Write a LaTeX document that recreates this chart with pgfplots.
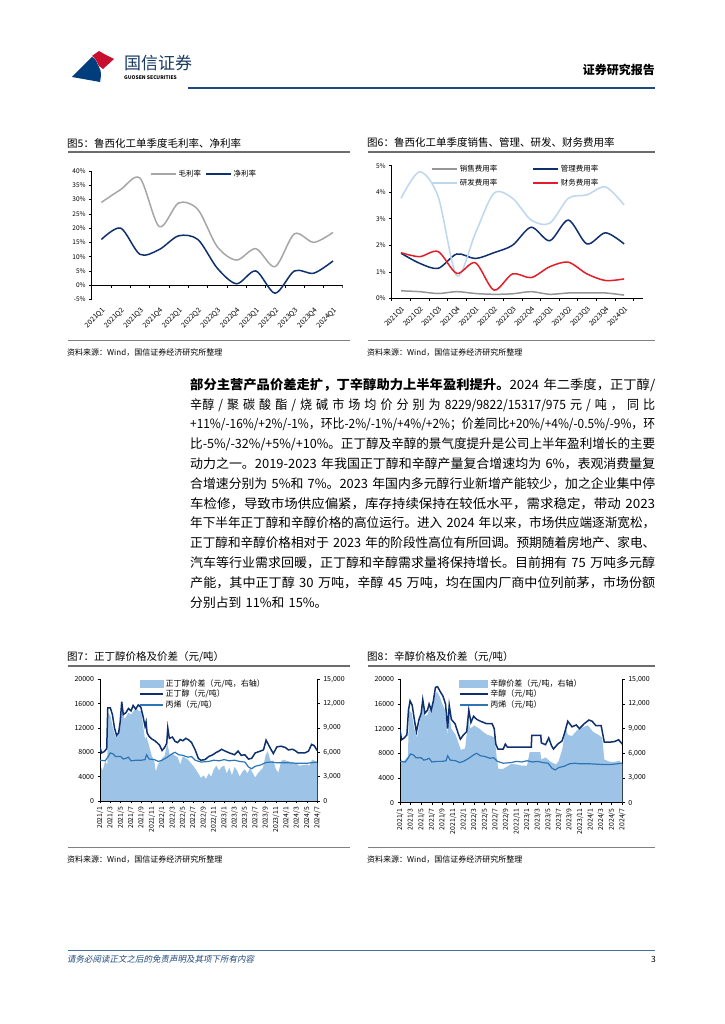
\documentclass[border=0pt]{standalone}
\usepackage{fontspec}
\setmainfont{Noto Sans CJK SC}
\newfontfamily\slfont[FakeSlant=0.2]{Noto Sans CJK SC}
\usepackage{graphicx}
\usepackage{pgfplots}
\usepackage{pgfplotstable}
\pgfplotsset{compat=1.18}
\newcommand\fs[2]{\fontsize{#1}{#2}\selectfont}
% one printed line of the body, stretched or squeezed to the text width
\newcommand\tline[1]{\resizebox{465pt}{\height}{\hbox{#1}}\par}

\definecolor{navy}{RGB}{14,48,110}
\definecolor{midb}{RGB}{46,117,182}
\definecolor{areab}{RGB}{157,195,230}
\definecolor{lgray}{RGB}{166,166,166}
\definecolor{sgray}{RGB}{150,150,150}
\definecolor{rdblue}{RGB}{189,215,238}
\definecolor{fred}{RGB}{228,30,40}
\definecolor{hblue}{RGB}{31,73,125}
\definecolor{fblue}{RGB}{68,114,160}
\definecolor{logored}{RGB}{200,16,46}
\definecolor{logoblue}{RGB}{0,61,124}

\pgfplotsset{
  pg/.style={scale only axis, scaled y ticks=false, axis line style={line width=0.6pt, black},
    tick style={line width=0.5pt, black}, tick align=outside,
    major tick length=2.5pt, tick label style={font=\fs{6.5}{7}}},
  lineleg/.style={legend image code/.code={\draw[##1] (0pt,0pt) -- (25pt,0pt);}},
  leg23/.style={legend image code/.code={\draw[##1] (0pt,0pt) -- (23pt,0pt);}},
  leg28/.style={legend image code/.code={\draw[##1] (0pt,0pt) -- (28pt,0pt);}},
  area23/.style={legend image code/.code={\fill[areab] (0pt,-3.5pt) rectangle (23pt,3.5pt);}},
  area28/.style={legend image code/.code={\fill[areab] (0pt,-3.5pt) rectangle (28pt,3.5pt);}},
}

% chart 5: gross and net margin, %
\pgfplotstableread{
x g n
0 29 16
1 33.5 20
2 37.5 10.8
3 20.5 12.5
4 28.8 17.3
5 26.5 16
6 13.5 6
7 8.8 0.5
8 12.8 5
9 6.5 -2.8
10 18 5
11 15 4.2
12 18.5 8.5
}\tabA

% chart 6: expense ratios, %
\pgfplotstableread{
x s a r f
0 0.28 1.70 3.77 1.72
1 0.25 1.32 4.77 1.57
2 0.18 1.13 3.83 1.76
3 0.25 1.67 0.85 0.94
4 0.18 1.50 2.45 1.34
5 0.15 1.72 3.96 0.31
6 0.17 2.00 3.77 0.92
7 0.25 2.68 2.95 0.78
8 0.15 2.17 2.83 1.19
9 0.20 2.95 3.77 1.36
10 0.20 2.05 3.90 0.92
11 0.20 2.47 4.20 0.67
12 0.12 2.05 3.52 0.73
}\tabB

% n-butanol price (m = months from 2021/1)
\pgfplotstableread{
m v
0 8800
0.3 7900
0.8 8100
1.3 8600
1.5 15300
2.0 15300
2.4 14200
2.8 12000
3.2 10800
3.6 11200
3.9 13000
4.2 16300
4.5 14200
5.0 14500
5.5 15200
6.0 14800
6.4 15700
6.9 15100
7.4 15800
7.9 15400
8.3 14000
8.7 12300
8.9 13000
9.1 11200
9.5 10600
10.0 10200
10.6 9900
11.0 9600
11.5 9200
12.0 8300
12.5 8800
12.9 9500
13.1 12000
13.4 10300
14.0 10500
14.5 9800
15.0 9600
15.5 10100
16.0 9900
16.6 10300
17.2 10000
17.7 9600
18.4 8400
19.0 7000
19.5 6700
20.3 6800
21.0 7300
21.8 7600
22.5 8000
23.0 8200
23.5 8500
24.2 8200
25.0 7900
26.0 7600
26.7 8200
27.3 7500
28.0 7600
28.7 6900
29.3 7000
30.0 7900
31.0 8200
31.6 8400
32.1 10000
32.9 8700
33.5 7800
34.2 8900
35.0 9000
35.8 8800
36.4 8400
37.2 8500
37.7 8300
38.3 7900
39.0 7900
39.6 7900
40.3 8200
40.9 9300
41.4 9100
41.9 8400
42.0 8300
}\tabBu

% n-butanol spread (right axis)
\pgfplotstableread{
m v
0 4500
0.5 3750
1 4900
1.4 4500
1.5 10900
2 10500
2.5 9000
3 7900
3.5 8250
4 10100
4.3 11250
4.7 10100
5 10350
5.5 10900
6 10650
6.5 11100
7 11400
7.5 11100
8 11100
8.3 9400
8.7 7650
9 7900
9.5 6750
10 5600
10.5 4900
10.8 3600
11.2 4500
12 5250
12.5 5600
13 7100
13.5 5600
14 5800
15 5400
15.5 4500
16 5500
17 5100
18 4350
18.5 3900
19 3400
19.5 2850
20 3150
20.5 2700
21 3400
21.5 3000
22 3900
22.5 4350
23 3750
23.5 4200
24 4350
24.5 3400
25 4100
25.5 3150
26 4200
26.5 3750
27 3000
27.5 3600
28 3900
28.5 3400
29 4050
29.5 3450
30 2900
30.5 3400
31 3750
31.5 4100
32 5600
32.4 6150
33 4900
33.5 5000
34 3900
34.5 3500
35 4900
35.5 5100
36 4950
37 4800
38 4650
38.5 4350
39 4400
40 4500
40.5 4350
41 5100
41.5 4950
42 4650
}\tabBs

% propylene price
\pgfplotstableread{
m v
0 6700
1 6600
1.5 7200
2 7900
2.6 7700
3 7300
4 7300
4.5 6900
5 7000
5.5 7200
6 6600
7 6700
8 6700
8.7 6800
9 7600
9.5 6900
10.5 6800
11.3 6500
12 6700
13 7200
14 7800
14.5 8000
15.2 7600
16 7500
17 7200
17.7 7300
18.4 6700
19.5 6400
21 6500
22 6700
23 6600
24 6800
25 6600
26 6700
27 6500
28 6400
28.7 5600
29.3 5300
30 5700
31 5900
32 6300
33 6400
34 6300
36 6300
38 6200
40 6200
41 6300
42 6400
}\tabPr

% octanol price
\pgfplotstableread{
m v
0 11800
0.3 10200
0.8 10500
1.3 11000
1.6 15000
1.9 16500
2.3 15800
2.8 13000
3.1 11500
3.6 13500
4.0 14500
4.3 16700
4.7 14500
5.2 15000
5.5 16000
5.9 15000
6.3 16500
6.7 18700
7.1 18800
7.6 18000
8.1 17300
8.6 16000
9.0 12000
9.3 15800
9.7 13500
10.4 12800
11.0 11200
11.4 10300
12.0 11000
12.6 11500
13.0 15000
13.4 13000
13.9 14000
14.5 13500
15.2 13200
15.8 13000
16.4 12800
17.4 12800
17.8 12000
18.1 9500
18.5 8700
19.5 8700
19.9 9500
20.3 9000
24.8 9000
24.9 10900
26.6 10900
26.7 9700
27.5 9400
28.1 10500
28.6 9300
29.0 8700
29.8 9500
30.6 10000
31.0 11000
31.7 13200
32.5 12300
33.3 12600
33.9 12000
34.8 12800
35.7 13400
36.3 13200
37.0 12500
38.0 12500
38.6 9800
39.5 9800
40.5 9900
41.3 10200
41.7 9800
42.0 9500
}\tabOc

% octanol spread (right axis)
\pgfplotstableread{
m v
0 5600
0.5 4900
1 5250
1.5 5600
1.7 11250
2.2 10900
2.7 9000
3.2 7900
3.8 10100
4.3 11850
4.7 10500
5.2 10700
5.5 11250
6 11600
6.5 13100
7 13500
7.5 12900
8 12000
8.5 11250
9 8250
9.3 10900
9.7 9000
10.5 8250
11 7350
11.5 6400
12.3 6600
12.9 10100
13.3 9000
14 9400
15 9000
15.7 8600
16.5 8250
17.3 8100
17.9 7900
18.3 5250
18.6 4100
19.5 4100
20.5 4500
21 4700
22 4650
23 4500
24 4500
24.5 6150
26.5 6150
26.7 5250
27.5 5500
28.5 4950
29.5 4650
30 5100
30.7 6600
31.3 9150
31.7 8250
32.5 8100
33.5 8850
34.5 9150
35.5 9400
36.5 8600
37.5 8250
38.2 7900
38.6 5250
39.5 5000
40.5 4950
41.5 5100
42 4700
}\tabOs

\def\datelabels{2021/1,2021/3,2021/5,2021/7,2021/9,2021/11,2022/1,2022/3,2022/5,2022/7,2022/9,2022/11,2023/1,2023/3,2023/5,2023/7,2023/9,2023/11,2024/1,2024/3,2024/5,2024/7}

\begin{document}
\begin{tikzpicture}[x=1pt,y=1pt]
\fill[white] (0,0) rectangle (724,1024);

% header
\fill[logoblue] (72,947) -- (92,967) to[out=-20,in=120] (99,957) to[out=-60,in=80] (100,942) -- cycle;
\fill[logored] (92,968) -- (99,973) -- (106,969) -- (114,965) -- (103,955) to[out=120,in=-60] (99,958) to[out=120,in=-30] cycle;
\node[anchor=west, inner sep=0, font=\fs{17}{18}, text=hblue!80!black] at (124,961) {国信证券};
\node[anchor=west, inner sep=0, font=\fs{5}{6}\bfseries] at (124,946) {GUOSEN SECURITIES};
\node[anchor=east, inner sep=0, font=\fs{12}{13}\bfseries] at (655,954) {证券研究报告};
\draw[hblue, line width=2pt] (188,936) -- (655,936);

% titles and sources
\node[anchor=west, inner sep=0, font=\fs{10.5}{12}] at (67,881) {图5：鲁西化工单季度毛利率、净利率};
\node[anchor=west, inner sep=0, font=\fs{10.5}{12}] at (367,881) {图6：鲁西化工单季度销售、管理、研发、财务费用率};
\draw[gray!85!black, line width=1.2pt] (68,872) -- (350,872) (368,872) -- (655,872);
\draw[gray, line width=0.5pt] (68,684) -- (350,684) (368,684) -- (655,684);
\node[anchor=west, inner sep=0, font=\fs{8}{9}] at (67,671) {资料来源：Wind，国信证券经济研究所整理};
\node[anchor=west, inner sep=0, font=\fs{8}{9}] at (367,671) {资料来源：Wind，国信证券经济研究所整理};

\node[anchor=west, inner sep=0, font=\fs{10.5}{12}] at (67,367) {图7：正丁醇价格及价差（元/吨）};
\node[anchor=west, inner sep=0, font=\fs{10.5}{12}] at (367,367) {图8：辛醇价格及价差（元/吨）};
\draw[gray!85!black, line width=1.2pt] (68,358) -- (350,358) (368,358) -- (655,358);
\draw[gray, line width=0.5pt] (68,177) -- (350,177) (368,177) -- (655,177);
\node[anchor=west, inner sep=0, font=\fs{8}{9}] at (67,164) {资料来源：Wind，国信证券经济研究所整理};
\node[anchor=west, inner sep=0, font=\fs{8}{9}] at (367,164) {资料来源：Wind，国信证券经济研究所整理};

% footer
\draw[fblue, line width=0.8pt] (68,74) -- (655,74);
\node[anchor=west, inner sep=0, font=\fs{8.5}{9}\slfont, text=hblue] at (67,65) {请务必阅读正文之后的免责声明及其项下所有内容};
\node[anchor=east, inner sep=0, font=\fs{8.5}{9}] at (656,65) {3};

% body text, one box per printed line
\node[anchor=north west, inner sep=0, text width=465pt, font=\fs{12.8}{19.8}] at (190,646) {%
\tline{{\bfseries 部分主营产品价差走扩，丁辛醇助力上半年盈利提升。}2024 年二季度，正丁醇/}
\tline{辛醇 / 聚 碳 酸 酯 / 烧 碱 市 场 均 价 分 别 为 8229/9822/15317/975 元 / 吨 ， 同 比}
\tline{+11\%/-16\%/+2\%/-1\%，环比-2\%/-1\%/+4\%/+2\%；价差同比+20\%/+4\%/-0.5\%/-9\%，环}
\tline{比-5\%/-32\%/+5\%/+10\%。正丁醇及辛醇的景气度提升是公司上半年盈利增长的主要}
\tline{动力之一。2019-2023 年我国正丁醇和辛醇产量复合增速均为 6\%，表观消费量复}
\tline{合增速分别为 5\%和 7\%。2023 年国内多元醇行业新增产能较少，加之企业集中停}
\tline{车检修，导致市场供应偏紧，库存持续保持在较低水平，需求稳定，带动 2023}
\tline{年下半年正丁醇和辛醇价格的高位运行。进入 2024 年以来，市场供应端逐渐宽松，}
\tline{正丁醇和辛醇价格相对于 2023 年的阶段性高位有所回调。预期随着房地产、家电、}
\tline{汽车等行业需求回暖，正丁醇和辛醇需求量将保持增长。目前拥有 75 万吨多元醇}
\tline{产能，其中正丁醇 30 万吨，辛醇 45 万吨，均在国内厂商中位列前茅，市场份额}
\hbox{分别占到 11\%和 15\%。}};

% ---------- chart 5 ----------
\begin{axis}[pg, lineleg, at={(91.7pt,724.5pt)}, anchor=south west, width=251pt, height=128.5pt,
  xmin=-0.5, xmax=12.5, ymin=-5, ymax=40,
  axis y line*=left, axis x line*=bottom, x axis line style={opacity=0},
  xtick={0,...,12}, major x tick style={draw=none},
  xticklabels={2021Q1,2021Q2,2021Q3,2021Q4,2022Q1,2022Q2,2022Q3,2022Q4,2023Q1,2023Q2,2023Q3,2023Q4,2024Q1},
  x tick label style={rotate=45, anchor=north east, font=\fs{7}{7}},
  ytick={-5,0,5,10,15,20,25,30,35,40},
  yticklabels={-5\%,0\%,5\%,10\%,15\%,20\%,25\%,30\%,35\%,40\%},
  legend columns=2,
  legend style={at={(0.22,1.04)}, anchor=north west, draw=none, fill=none, font=\fs{7.5}{8},
    /tikz/every even column/.append style={column sep=2pt}},
]
\draw[black, line width=0.6pt] (axis cs:-0.5,0) -- (axis cs:12.5,0);
\pgfplotsinvokeforeach{-0.5,0.5,...,12.5}{\draw[black, line width=0.5pt] (axis cs:#1,0) -- ++(0pt,-2.5pt);}
\addplot[smooth, lgray, line width=1.5pt] table[x=x,y=g]{\tabA};
\addlegendentry{毛利率}
\addplot[smooth, navy, line width=1.5pt] table[x=x,y=n]{\tabA};
\addlegendentry{净利率}
\end{axis}

% ---------- chart 6 ----------
\begin{axis}[pg, lineleg, at={(391.7pt,725.7pt)}, anchor=south west, width=251pt, height=132.6pt,
  xmin=-0.5, xmax=13, ymin=0, ymax=5,
  axis y line*=left, axis x line*=bottom,
  xtick={0,...,12}, major x tick style={draw=none},
  xticklabels={2021Q1,2021Q2,2021Q3,2021Q4,2022Q1,2022Q2,2022Q3,2022Q4,2023Q1,2023Q2,2023Q3,2023Q4,2024Q1},
  x tick label style={rotate=45, anchor=north east, font=\fs{7}{7}},
  extra x ticks={-0.5,0.5,...,12.5}, extra x tick labels={},
  extra x tick style={major x tick style={draw=black}},
  ytick={0,1,2,3,4,5}, yticklabels={0\%,1\%,2\%,3\%,4\%,5\%},
  legend columns=2,
  legend style={at={(0.145,1.035)}, anchor=north west, draw=none, fill=none, font=\fs{7.5}{8},
    /tikz/every even column/.append style={column sep=33pt}, row sep=2pt},
]
\addplot[smooth, sgray, line width=1.5pt] table[x=x,y=s]{\tabB};
\addlegendentry{销售费用率}
\addplot[smooth, navy, line width=1.5pt] table[x=x,y=a]{\tabB};
\addlegendentry{管理费用率}
\addplot[smooth, rdblue, line width=1.5pt] table[x=x,y=r]{\tabB};
\addlegendentry{研发费用率}
\addplot[smooth, fred, line width=1.5pt] table[x=x,y=f]{\tabB};
\addlegendentry{财务费用率}
\end{axis}

% ---------- chart 7 ----------
\begin{axis}[pg, at={(100pt,223pt)}, anchor=south west, width=217.3pt, height=121.7pt,
  xmin=0, xmax=42, ymin=0, ymax=15000,
  axis y line*=right, axis x line=none,
  ytick={0,3000,6000,9000,12000,15000},
  yticklabels={0,{3,000},{6,000},{9,000},{12,000},{15,000}},
  y tick label style={font=\fs{7}{8}}]
\addplot[fill=areab, draw=none] table[x=m,y=v]{\tabBs} \closedcycle;
\end{axis}
\begin{axis}[pg, at={(100pt,223pt)}, anchor=south west, width=217.3pt, height=121.7pt,
  xmin=0, xmax=42, ymin=0, ymax=20000,
  axis y line*=left, axis x line*=bottom,
  xtick={0,2,...,42}, xticklabels/.expand once=\datelabels,
  x tick label style={rotate=90, anchor=east, font=\fs{6.8}{7}},
  ytick={0,4000,8000,12000,16000,20000},
  yticklabels={0,4000,8000,12000,16000,20000},
  y tick label style={font=\fs{7}{8}},
  legend cell align=left,
  legend style={at={(0.165,1.035)}, anchor=north west, draw=none, fill=none, font=\fs{8}{9}, row sep=-1.5pt},
]
\addlegendimage{area23}
\addlegendentry{正丁醇价差（元/吨，右轴）}
\addlegendimage{navy, line width=1.6pt, leg23}
\addlegendentry{正丁醇（元/吨）}
\addlegendimage{midb, line width=1.3pt, leg23}
\addlegendentry{丙烯（元/吨）}
\addplot[forget plot, midb, line width=1.2pt] table[x=m,y=v]{\tabPr};
\addplot[forget plot, navy, line width=1.5pt] table[x=m,y=v]{\tabBu};
\end{axis}

% ---------- chart 8 ----------
\begin{axis}[pg, at={(400pt,221.3pt)}, anchor=south west, width=222.3pt, height=123.4pt,
  xmin=0, xmax=42, ymin=0, ymax=15000,
  axis y line*=right, axis x line=none,
  ytick={0,3000,6000,9000,12000,15000},
  yticklabels={0,{3,000},{6,000},{9,000},{12,000},{15,000}},
  y tick label style={font=\fs{7}{8}}]
\addplot[fill=areab, draw=none] table[x=m,y=v]{\tabOs} \closedcycle;
\end{axis}
\begin{axis}[pg, at={(400pt,221.3pt)}, anchor=south west, width=222.3pt, height=123.4pt,
  xmin=0, xmax=42, ymin=0, ymax=20000,
  axis y line*=left, axis x line*=bottom,
  xtick={0,2,...,42}, xticklabels/.expand once=\datelabels,
  x tick label style={rotate=90, anchor=east, font=\fs{6.8}{7}},
  ytick={0,4000,8000,12000,16000,20000},
  yticklabels={0,4000,8000,12000,16000,20000},
  y tick label style={font=\fs{7}{8}},
  legend cell align=left,
  legend style={at={(0.25,1.035)}, anchor=north west, draw=none, fill=none, font=\fs{8}{9}, row sep=-1.5pt},
]
\addlegendimage{area28}
\addlegendentry{辛醇价差（元/吨，右轴）}
\addlegendimage{navy, line width=1.6pt, leg28}
\addlegendentry{辛醇（元/吨）}
\addlegendimage{midb, line width=1.3pt, leg28}
\addlegendentry{丙烯（元/吨）}
\addplot[forget plot, midb, line width=1.2pt] table[x=m,y=v]{\tabPr};
\addplot[forget plot, navy, line width=1.5pt] table[x=m,y=v]{\tabOc};
\end{axis}
\end{tikzpicture}
\end{document}
